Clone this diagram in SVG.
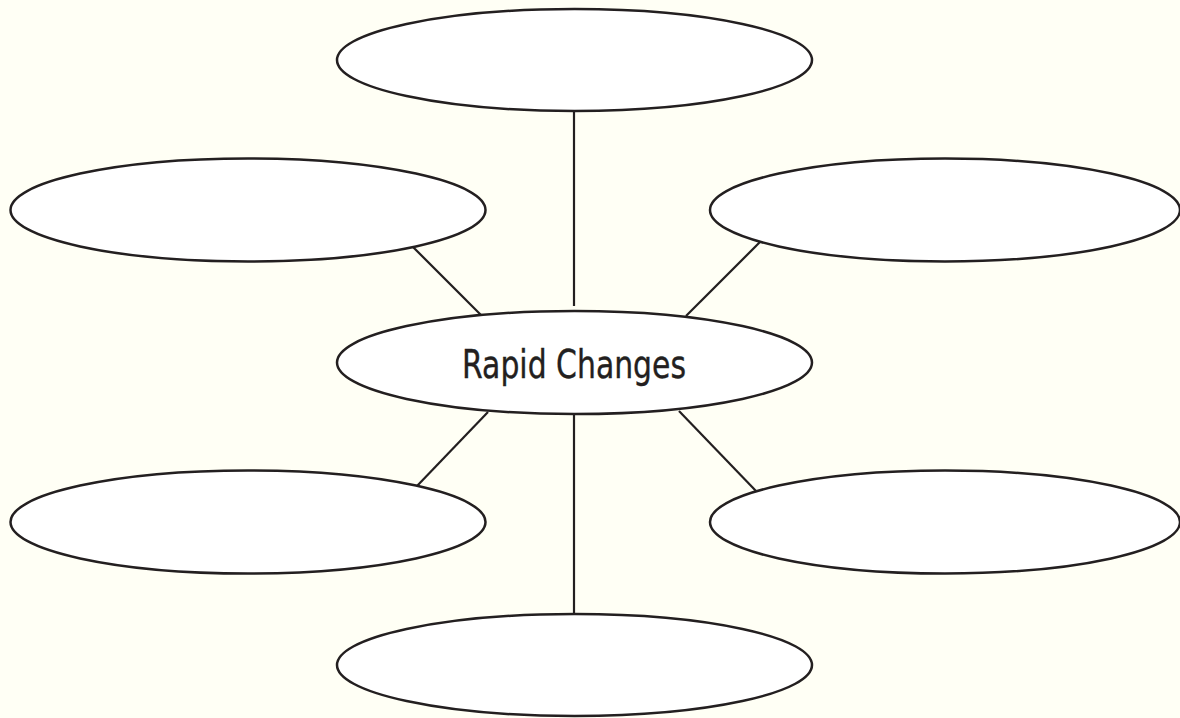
<svg xmlns="http://www.w3.org/2000/svg" width="1180" height="718" viewBox="0 0 1180 718">
<style>
.node{fill:#ffffff;stroke:#231f20;stroke-width:2.5}
.conn line{stroke:#231f20;stroke-width:2.2}
.lbl{font-family:"DejaVu Sans","Liberation Sans",Arial,sans-serif;font-size:39px;fill:#231f20;stroke:#231f20;stroke-width:0.4;text-anchor:middle}
</style>
<rect x="0" y="0" width="1180" height="718" fill="#fffff5"/>
<g id="connectors" class="conn">
<line x1="574" y1="112" x2="574" y2="306"/>
<line x1="413" y1="247" x2="481" y2="315"/>
<line x1="760" y1="242" x2="686" y2="316"/>
<line x1="488" y1="412" x2="417" y2="486"/>
<line x1="679" y1="411" x2="756" y2="491"/>
<line x1="574" y1="415" x2="574" y2="613"/>
</g>
<g id="top"><ellipse class="node" cx="574.5" cy="60" rx="237.5" ry="51"/></g>
<g id="upper-left"><ellipse class="node" cx="248" cy="210" rx="237.5" ry="51.5"/></g>
<g id="upper-right"><ellipse class="node" cx="945" cy="210" rx="235" ry="51.5"/></g>
<g id="center"><ellipse class="node" cx="574.5" cy="362.5" rx="237.5" ry="51.5"/>
<text class="lbl" x="574" y="378" textLength="224" lengthAdjust="spacingAndGlyphs">Rapid Changes</text></g>
<g id="lower-left"><ellipse class="node" cx="248" cy="522" rx="237.5" ry="51.5"/></g>
<g id="lower-right"><ellipse class="node" cx="945" cy="522" rx="235" ry="51.5"/></g>
<g id="bottom"><ellipse class="node" cx="574.5" cy="665" rx="237.5" ry="51"/></g>
</svg>
